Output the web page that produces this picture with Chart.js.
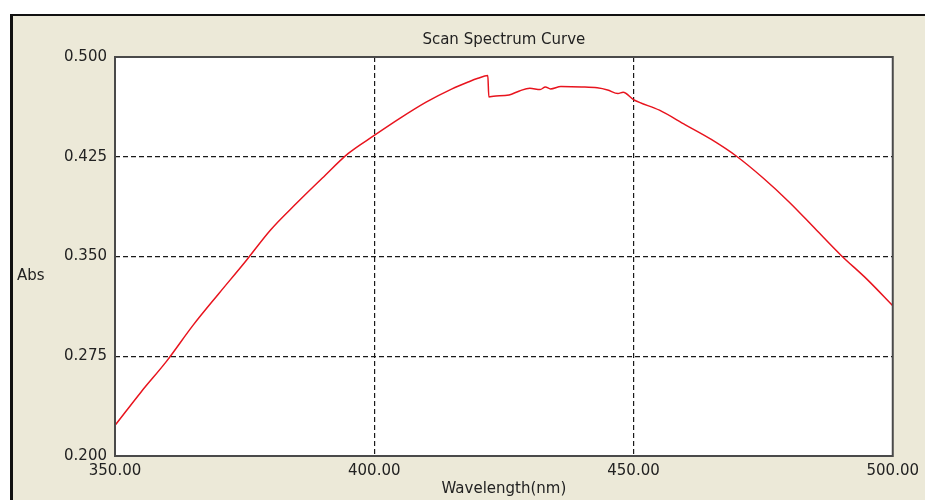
<!DOCTYPE html>
<html>
<head>
<meta charset="utf-8">
<script src="https://cdn.jsdelivr.net/npm/chart.js@4.4.0/dist/chart.umd.min.js"></script>
<style>
  body { margin: 0; background: #fff; }
  canvas { display: block; }
</style>
</head>
<body>
<canvas id="myChart" width="925" height="500"></canvas>
<script>
// values (nm / Abs)
var wavelengths = [350, 355, 360, 365, 370, 375, 380, 385, 390, 395, 400, 405, 410, 415, 418, 420, 421.9,
    422.1, 423, 426, 428, 430, 432, 433, 434, 436, 440, 443, 445, 447, 448, 450,
    455, 460, 465, 470, 475, 480, 485, 490, 495, 500];
var absValues = [0.223, 0.248, 0.2715, 0.298, 0.322, 0.3455, 0.370, 0.390, 0.409, 0.4275, 0.441, 0.454, 0.466, 0.476, 0.481, 0.484, 0.486,
    0.470, 0.4705, 0.4715, 0.4745, 0.4765, 0.4755, 0.4775, 0.476, 0.4778, 0.4775, 0.4768, 0.4752, 0.4725, 0.4735, 0.468,
    0.460, 0.449, 0.438, 0.425, 0.409, 0.391, 0.371, 0.351, 0.333, 0.313];
var xTicks = [350, 400, 450, 500];
var yTicks = [0.200, 0.275, 0.350, 0.425, 0.500];

var points = wavelengths.map(function (w, i) { return { x: w, y: absValues[i] }; });

Chart.defaults.font.family = 'DejaVu Sans';
Chart.defaults.font.size = 15;
Chart.defaults.color = '#222';

// window frame, beige panel, plot border and the "Abs" label
var framePlugin = {
    id: 'frame',
    beforeDraw: function (chart) {
        var ctx = chart.ctx, a = chart.chartArea;
        ctx.save();
        ctx.fillStyle = '#fff';
        ctx.fillRect(0, 0, chart.width, chart.height);
        ctx.fillStyle = '#ECE9D8';
        ctx.fillRect(10, 14, chart.width - 10, chart.height - 14);
        ctx.fillStyle = '#111';
        ctx.fillRect(10, 14, chart.width - 10, 2);
        ctx.fillRect(10, 14, 3, chart.height - 14);
        ctx.fillStyle = '#fff';
        ctx.fillRect(a.left, a.top, a.right - a.left, a.bottom - a.top);
        ctx.restore();
    },
    afterDraw: function (chart) {
        var ctx = chart.ctx, a = chart.chartArea;
        ctx.save();
        ctx.strokeStyle = '#4a4a4a';
        ctx.lineWidth = 2;
        ctx.strokeRect(a.left, a.top, a.right - a.left, a.bottom - a.top);
        ctx.fillStyle = '#222';
        ctx.font = '15px "DejaVu Sans"';
        ctx.textBaseline = 'middle';
        ctx.fillText('Abs', 17, 276);
        ctx.restore();
    }
};

function edgeColor(ctx, min, max) {
    var v = ctx.tick ? ctx.tick.value : null;
    if (v === null || Math.abs(v - min) < 1e-6 || Math.abs(v - max) < 1e-6) return 'rgba(0,0,0,0)';
    return '#1a1a1a';
}

new Chart('myChart', {
    type: 'line',
    data: {
        datasets: [{
            data: points,
            borderColor: '#E8141E',
            borderWidth: 1.5,
            pointRadius: 0,
            cubicInterpolationMode: 'monotone',
            fill: false
        }]
    },
    options: {
        responsive: false,
        animation: false,
        layout: { padding: { left: 20, right: 31, top: 0, bottom: 0 } },
        plugins: {
            legend: { display: false },
            tooltip: { enabled: false },
            title: {
                display: true,
                fullSize: false,
                text: 'Scan Spectrum Curve',
                color: '#222',
                font: { size: 15, weight: 'normal' },
                padding: { top: 31, bottom: 8 }
            }
        },
        scales: {
            x: {
                type: 'linear',
                min: 350,
                max: 500,
                afterBuildTicks: function (s) { s.ticks = xTicks.map(function (v) { return { value: v }; }); },
                afterFit: function (s) { s.height = 44; },
                ticks: {
                    padding: 6,
                    maxRotation: 0,
                    callback: function (v) { return v.toFixed(2); }
                },
                grid: {
                    drawTicks: false,
                    color: function (ctx) { return edgeColor(ctx, 350, 500); },
                    lineWidth: 1.2
                },
                border: { display: false, dash: [5, 3] },
                title: {
                    display: true,
                    text: 'Wavelength(nm)',
                    color: '#222',
                    padding: { top: 0, bottom: 2 }
                }
            },
            y: {
                min: 0.2,
                max: 0.5,
                afterBuildTicks: function (s) { s.ticks = yTicks.map(function (v) { return { value: v }; }); },
                afterFit: function (s) { s.width = 95; },
                ticks: {
                    padding: 8,
                    callback: function (v) { return v.toFixed(3); }
                },
                grid: {
                    drawTicks: false,
                    color: function (ctx) { return edgeColor(ctx, 0.2, 0.5); },
                    lineWidth: 1.2
                },
                border: { display: false, dash: [5, 3] }
            }
        }
    },
    plugins: [framePlugin]
});
</script>
</body>
</html>
